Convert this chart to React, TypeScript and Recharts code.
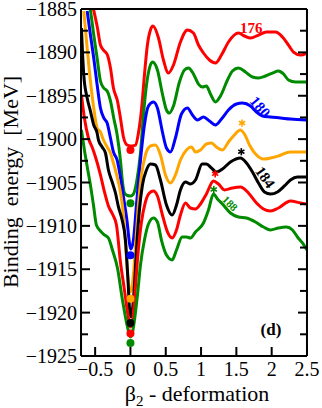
import React from 'react';
import { ComposedChart, Line, Scatter, XAxis, YAxis, ReferenceDot } from 'recharts';

type P = [number, number];

// beta2, binding energy (MeV)
const curve176: P[] = [
  [-0.524, -1885.0], [-0.467, -1887.19], [-0.425, -1889.15], [-0.382, -1889.73], [-0.326, -1890.3],
  [-0.283, -1891.8], [-0.241, -1894.11], [-0.184, -1895.6], [-0.142, -1897.56], [-0.099, -1899.75],
  [-0.047, -1900.68], [0, -1900.79], [0.071, -1900.68], [0.113, -1899.29], [0.156, -1896.64],
  [0.198, -1892.61], [0.24, -1889.15], [0.283, -1887.42], [0.319, -1886.96], [0.397, -1888.34],
  [0.467, -1890.88], [0.538, -1892.38], [0.609, -1891.46], [0.708, -1888.8], [0.807, -1887.42],
  [0.892, -1887.77], [0.963, -1889.15], [1.034, -1890.07], [1.119, -1890.88], [1.204, -1891.22],
  [1.289, -1890.3], [1.388, -1888.8], [1.53, -1887.77], [1.615, -1888.11], [1.7, -1888.34],
  [1.813, -1888.0], [1.926, -1887.65], [2.054, -1887.65], [2.153, -1888.23], [2.238, -1889.15],
  [2.309, -1889.96], [2.408, -1890.3], [2.5, -1890.07],
];
const curve178: P[] = [
  [-0.567, -1885.08], [-0.52, -1887.96], [-0.472, -1890.65], [-0.425, -1893.3], [-0.378, -1894.11],
  [-0.33, -1894.45], [-0.283, -1895.6], [-0.237, -1897.56], [-0.188, -1899.52], [-0.142, -1902.41],
  [-0.113, -1904.94], [-0.085, -1906.21], [-0.042, -1906.5], [0, -1906.56], [0.042, -1906.33],
  [0.092, -1904.71], [0.142, -1901.6], [0.184, -1897.22], [0.227, -1893.76], [0.269, -1891.8],
  [0.312, -1891.11], [0.382, -1892.03], [0.453, -1894.8], [0.51, -1896.64], [0.552, -1896.99],
  [0.609, -1896.18], [0.694, -1893.41], [0.765, -1892.03], [0.822, -1891.8], [0.892, -1892.49],
  [0.963, -1893.65], [1.02, -1893.99], [1.076, -1893.88], [1.133, -1894.8], [1.204, -1895.72],
  [1.275, -1895.03], [1.374, -1893.18], [1.445, -1892.15], [1.53, -1891.8], [1.629, -1892.26],
  [1.728, -1892.84], [1.813, -1892.95], [1.912, -1892.72], [2.011, -1892.38], [2.096, -1892.15],
  [2.167, -1892.49], [2.238, -1893.18], [2.337, -1893.41], [2.5, -1893.41],
];
const curve180: P[] = [
  [-0.613, -1885.23], [-0.567, -1887.96], [-0.52, -1890.65], [-0.472, -1893.73], [-0.425, -1896.41],
  [-0.378, -1897.56], [-0.33, -1898.14], [-0.283, -1899.87], [-0.241, -1901.48], [-0.188, -1902.41],
  [-0.142, -1904.37], [-0.099, -1906.67], [-0.047, -1909.55], [-0.014, -1911.97], [0.005, -1912.67],
  [0.042, -1911.63], [0.085, -1907.59], [0.142, -1902.41], [0.198, -1898.37], [0.255, -1896.18],
  [0.326, -1895.72], [0.382, -1896.41], [0.453, -1899.18], [0.51, -1901.02], [0.567, -1901.48],
  [0.637, -1899.87], [0.722, -1897.1], [0.807, -1896.41], [0.878, -1897.22], [0.949, -1897.79],
  [1.034, -1897.45], [1.119, -1897.91], [1.204, -1898.37], [1.289, -1897.68], [1.388, -1896.64],
  [1.501, -1895.95], [1.586, -1895.84], [1.7, -1896.18], [1.785, -1896.87], [1.87, -1897.33],
  [1.983, -1897.45], [2.125, -1897.56], [2.266, -1897.68], [2.5, -1897.79],
];
const curve182: P[] = [
  [-0.661, -1885.23], [-0.613, -1889.5], [-0.567, -1893.3], [-0.52, -1896.41], [-0.472, -1898.72],
  [-0.425, -1899.18], [-0.382, -1900.1], [-0.33, -1900.91], [-0.283, -1901.6], [-0.241, -1902.75],
  [-0.188, -1904.37], [-0.142, -1906.09], [-0.099, -1908.75], [-0.064, -1912.78], [-0.035, -1916.01],
  [-0.01, -1917.62], [0.014, -1917.39], [0.042, -1915.66], [0.078, -1911.63], [0.113, -1907.59],
  [0.156, -1904.13], [0.212, -1901.83], [0.283, -1900.79], [0.354, -1900.68], [0.425, -1901.83],
  [0.496, -1904.13], [0.567, -1905.06], [0.637, -1904.13], [0.708, -1902.41], [0.793, -1901.25],
  [0.864, -1900.91], [0.921, -1901.48], [0.992, -1901.25], [1.076, -1900.56], [1.147, -1900.45],
  [1.218, -1900.91], [1.303, -1901.25], [1.388, -1900.33], [1.459, -1899.64], [1.558, -1898.95],
  [1.629, -1899.64], [1.686, -1900.68], [1.785, -1901.83], [1.884, -1902.29], [1.983, -1902.18],
  [2.096, -1901.94], [2.266, -1901.48], [2.5, -1901.48],
];
const curve184: P[] = [
  [-0.694, -1887.19], [-0.661, -1892.61], [-0.613, -1895.26], [-0.567, -1896.76], [-0.52, -1898.37],
  [-0.472, -1899.29], [-0.453, -1900.1], [-0.401, -1900.91], [-0.354, -1901.6], [-0.312, -1903.56],
  [-0.259, -1904.94], [-0.212, -1906.21], [-0.17, -1907.82], [-0.118, -1909.32], [-0.071, -1911.63],
  [-0.035, -1916.24], [-0.014, -1919.47], [0.007, -1920.5], [0.028, -1919.7], [0.057, -1916.81],
  [0.085, -1912.78], [0.127, -1908.17], [0.17, -1905.29], [0.227, -1903.56], [0.283, -1902.87],
  [0.354, -1902.98], [0.425, -1904.71], [0.51, -1907.59], [0.591, -1908.75], [0.652, -1907.59],
  [0.708, -1905.86], [0.779, -1904.94], [0.85, -1905.17], [0.921, -1904.71], [1.016, -1902.87],
  [1.076, -1902.87], [1.147, -1903.33], [1.218, -1903.79], [1.303, -1903.44], [1.416, -1902.64],
  [1.558, -1902.18], [1.643, -1902.75], [1.728, -1903.79], [1.813, -1905.06], [1.898, -1906.09],
  [1.983, -1906.33], [2.082, -1906.09], [2.181, -1905.4], [2.266, -1904.71], [2.365, -1904.37],
  [2.5, -1904.37],
];
const curve186: P[] = [
  [-0.694, -1894.91], [-0.652, -1897.56], [-0.595, -1899.87], [-0.538, -1901.02], [-0.482, -1902.41],
  [-0.425, -1904.13], [-0.368, -1906.09], [-0.312, -1907.71], [-0.255, -1908.63], [-0.198, -1909.9],
  [-0.142, -1914.16], [-0.085, -1917.39], [-0.042, -1919.93], [0, -1921.66], [0.028, -1921.08],
  [0.057, -1918.54], [0.099, -1913.93], [0.156, -1909.55], [0.212, -1907.25], [0.269, -1906.21],
  [0.326, -1905.98], [0.382, -1906.56], [0.453, -1908.75], [0.524, -1910.7], [0.591, -1911.4],
  [0.652, -1910.47], [0.708, -1908.75], [0.779, -1907.36], [0.85, -1907.94], [0.921, -1908.05],
  [0.992, -1907.48], [1.076, -1906.32], [1.176, -1904.83], [1.246, -1905.17], [1.331, -1905.86],
  [1.445, -1905.63], [1.558, -1905.52], [1.671, -1906.21], [1.785, -1907.36], [1.884, -1908.05],
  [1.983, -1908.28], [2.096, -1907.94], [2.266, -1907.13], [2.408, -1907.36], [2.5, -1907.48],
];
const curve188: P[] = [
  [-0.694, -1898.95], [-0.652, -1901.25], [-0.609, -1903.33], [-0.567, -1905.29], [-0.524, -1907.59],
  [-0.482, -1909.9], [-0.425, -1910.59], [-0.368, -1911.05], [-0.312, -1911.4], [-0.255, -1912.78],
  [-0.184, -1914.86], [-0.113, -1918.54], [-0.042, -1921.66], [0, -1922.81], [0.028, -1922.35],
  [0.057, -1920.85], [0.099, -1917.97], [0.142, -1914.51], [0.198, -1911.63], [0.255, -1909.78],
  [0.326, -1909.09], [0.382, -1909.55], [0.439, -1911.63], [0.51, -1913.36], [0.591, -1913.93],
  [0.652, -1912.78], [0.732, -1911.28], [0.793, -1911.28], [0.85, -1911.4], [0.921, -1910.71],
  [1.034, -1909.67], [1.105, -1908.17], [1.176, -1906.33], [1.232, -1906.9], [1.303, -1907.48],
  [1.416, -1908.52], [1.53, -1908.98], [1.643, -1909.09], [1.771, -1909.55], [1.884, -1910.13],
  [1.983, -1910.47], [2.096, -1910.24], [2.21, -1910.13], [2.295, -1910.47], [2.365, -1911.28],
  [2.436, -1911.97], [2.5, -1912.78],
];

const groundBeta = [0, 0, 0, 0, 0, 0, 0];
const groundE = [-1901.25, -1907.4, -1913.4, -1918.4, -1921.2, -1922.4, -1923.5];

const starBeta = [1.58, 1.57, 1.2, 1.18];
const starE = [-1898.15, -1901.45, -1904.0, -1905.8];

const xMajorTicks = [-0.5, 0, 0.5, 1, 1.5, 2, 2.5];
const xMinorTicks = [-0.7, -0.6, -0.4, -0.3, -0.2, -0.1, 0.1, 0.2, 0.3, 0.4, 0.6, 0.7, 0.8, 0.9, 1.1, 1.2, 1.3, 1.4, 1.6, 1.7, 1.8, 1.9, 2.1, 2.2, 2.3, 2.4];
const yMajorTicks = [-1925, -1920, -1915, -1910, -1905, -1900, -1895, -1890, -1885];
const yMinorTicks = [-1922.5, -1917.5, -1912.5, -1907.5, -1902.5, -1897.5, -1892.5, -1887.5];

// styling
const RED = '#ff0000';
const GREEN = '#008a00';
const BLUE = '#0000ff';
const ORANGE = '#ffa500';
const BLACK = '#000000';
const curveList = [curve176, curve178, curve180, curve182, curve184, curve186, curve188];
const curveColors = [RED, GREEN, BLUE, ORANGE, BLACK, RED, GREEN];
const starColors = [ORANGE, BLACK, RED, GREEN];

const curveLabels = [
  { text: '176', b: 1.709, e: -1887.2, color: RED, rot: 0, size: 15 },
  { text: '180', b: 1.836, e: -1896.3, color: BLUE, rot: 50, size: 15 },
  { text: '184', b: 1.907, e: -1904.4, color: BLACK, rot: 55, size: 15 },
  { text: '188', b: 1.412, e: -1907.4, color: GREEN, rot: 45, size: 11 },
];

const FONT = "'Liberation Serif', 'Times New Roman', serif";
const THIN = 0.01;

const toData = (pts: P[]) => pts.map(([b, e]) => ({ b, e }));
const groundData = groundBeta.map((b, i) => ({ b, e: groundE[i], color: curveColors[i] }));
const starData = starBeta.map((b, i) => ({ b, e: starE[i], color: starColors[i] }));

const fmt = (v: number) => String(v).replace('-', '\u2212');
const empty = () => '';

const Dot = (p: any) => <circle cx={p.cx} cy={p.cy} r={4} fill={p.payload.color} />;
const Star = (p: any) => {
  const r = 3.6;
  const c = p.payload.color;
  const lines = [90, 30, -30].map((a) => {
    const rad = (a * Math.PI) / 180;
    const dx = r * Math.cos(rad);
    const dy = r * Math.sin(rad);
    return <line key={a} x1={p.cx - dx} y1={p.cy - dy} x2={p.cx + dx} y2={p.cy + dy} stroke={c} strokeWidth={1.6} />;
  });
  return <g>{lines}</g>;
};

const axisStroke = { stroke: '#000', strokeWidth: 2 };

export default function App() {
  return (
    <div style={{ position: 'absolute', left: 0, top: 0, width: 322, height: 408, background: '#fff' }}>
      <ComposedChart width={322} height={408} margin={{ top: 9, right: 15, bottom: 52, left: 81 }}>
        <XAxis
          xAxisId={0}
          dataKey="b"
          type="number"
          domain={[-0.7, 2.5]}
          allowDataOverflow
          ticks={xMajorTicks}
          interval={0}
          height={THIN}
          tickSize={-9}
          tickMargin={15}
          tickFormatter={fmt}
          axisLine={axisStroke}
          tickLine={axisStroke}
          tick={{ fontFamily: FONT, fontSize: 20, fill: '#000' }}
        />
        <XAxis xAxisId="xmin" type="number" domain={[-0.7, 2.5]} allowDataOverflow ticks={xMinorTicks}
          interval={0} height={THIN} tickSize={-4.5} tickFormatter={empty} axisLine={false} tickLine={axisStroke} />
        <XAxis xAxisId="top" orientation="top" type="number" domain={[-0.7, 2.5]} allowDataOverflow ticks={xMajorTicks}
          interval={0} height={THIN} tickSize={-9} tickFormatter={empty} axisLine={axisStroke} tickLine={axisStroke} />
        <XAxis xAxisId="topmin" orientation="top" type="number" domain={[-0.7, 2.5]} allowDataOverflow ticks={xMinorTicks}
          interval={0} height={THIN} tickSize={-4.5} tickFormatter={empty} axisLine={false} tickLine={axisStroke} />
        <YAxis
          yAxisId={0}
          type="number"
          domain={[-1925, -1885]}
          allowDataOverflow
          ticks={yMajorTicks}
          interval={0}
          width={THIN}
          tickSize={-9}
          tickMargin={13}
          tickFormatter={fmt}
          axisLine={axisStroke}
          tickLine={axisStroke}
          tick={{ fontFamily: FONT, fontSize: 20, fill: '#000' }}
        />
        <YAxis yAxisId="ymin" type="number" domain={[-1925, -1885]} allowDataOverflow ticks={yMinorTicks}
          interval={0} width={THIN} tickSize={-7} tickFormatter={empty} axisLine={false} tickLine={axisStroke} />
        <YAxis yAxisId="right" orientation="right" type="number" domain={[-1925, -1885]} allowDataOverflow ticks={yMajorTicks}
          interval={0} width={THIN} tickSize={-9} tickFormatter={empty} axisLine={axisStroke} tickLine={axisStroke} />
        <YAxis yAxisId="rightmin" orientation="right" type="number" domain={[-1925, -1885]} allowDataOverflow ticks={yMinorTicks}
          interval={0} width={THIN} tickSize={-7} tickFormatter={empty} axisLine={false} tickLine={axisStroke} />

        {curveList.map((pts, i) => (
          <Line
            key={i}
            data={toData(pts)}
            dataKey="e"
            type="monotone"
            stroke={curveColors[i]}
            strokeWidth={3}
            dot={false}
            activeDot={false}
            isAnimationActive={false}
          />
        ))}
        <Scatter data={groundData} dataKey="e" shape={Dot} isAnimationActive={false} />
        <Scatter data={starData} dataKey="e" shape={Star} isAnimationActive={false} />
        {curveLabels.map((l) => (
          <ReferenceDot
            key={l.text}
            x={l.b}
            y={l.e}
            r={0}
            shape={(p: any) => (
              <text
                x={p.cx}
                y={p.cy}
                textAnchor="middle"
                dominantBaseline="central"
                fontFamily={FONT}
                fontWeight="bold"
                fontSize={l.size}
                fill={l.color}
                transform={`rotate(${l.rot}, ${p.cx}, ${p.cy})`}
              >
                {l.text}
              </text>
            )}
          />
        ))}
        <ReferenceDot
          x={1.99}
          y={-1921.9}
          r={0}
          shape={(p: any) => (
            <text x={p.cx} y={p.cy} textAnchor="middle" dominantBaseline="central" fontFamily={FONT}
              fontWeight="bold" fontSize={17} fill="#000">(d)</text>
          )}
        />
      </ComposedChart>
      <svg width={322} height={408} style={{ position: 'absolute', left: 0, top: 0, pointerEvents: 'none' }}>
        <text
          x={18}
          y={182}
          transform="rotate(-90, 18, 182)"
          textAnchor="middle"
          fontFamily={FONT}
          fontSize={22}
          fill="#000"
          style={{ whiteSpace: 'pre' }}
        >
          {'Binding  energy  [MeV]'}
        </text>
        <text x={197} y={401} textAnchor="middle" fontFamily={FONT} fontSize={22} fill="#000" style={{ whiteSpace: 'pre' }}>
          {'\u03b2'}
          <tspan fontSize={15} dy={5}>2</tspan>
          <tspan dy={-5}>{' - deformation'}</tspan>
        </text>
      </svg>
    </div>
  );
}
